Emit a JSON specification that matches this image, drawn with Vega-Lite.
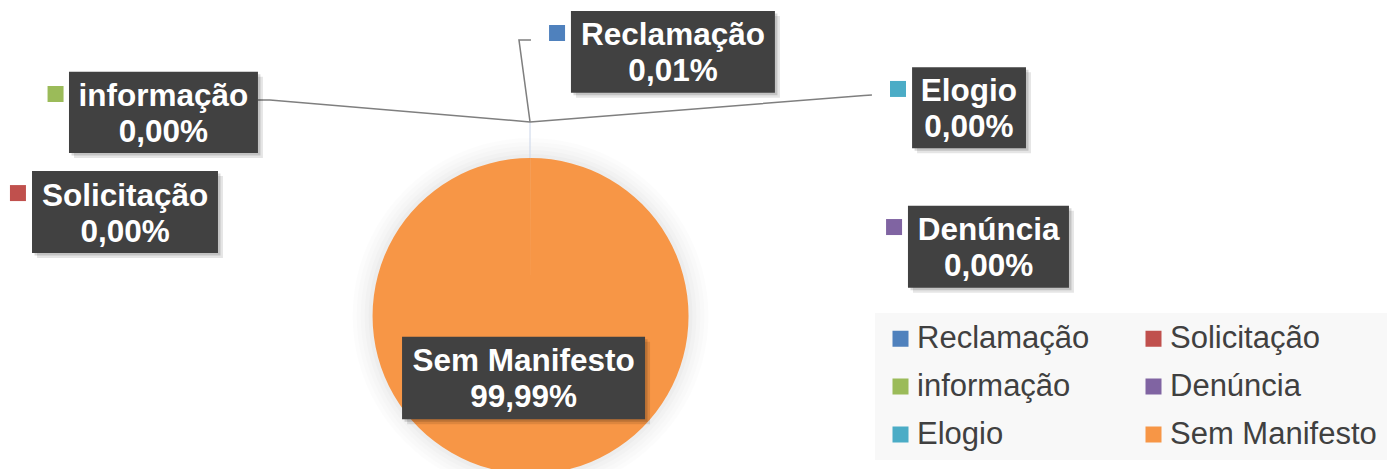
{
  "$schema": "https://vega.github.io/schema/vega-lite/v6.json",
  "width": 1391,
  "height": 469,
  "autosize": {"type": "none"},
  "padding": 0,
  "background": "#ffffff",
  "config": {"view": {"stroke": null}},
  "datasets": {
    "shares": [
      {"cat": "Reclamação", "value": 0.01},
      {"cat": "Solicitação", "value": 0},
      {"cat": "informação", "value": 0},
      {"cat": "Denúncia", "value": 0},
      {"cat": "Elogio", "value": 0},
      {"cat": "Sem Manifesto", "value": 99.99}
    ],
    "labels": [
      {"cat": "Reclamação", "pct": "0,01%", "bx1": 25.6, "bx2": 154.7, "by1": 193.0, "by2": 141.3, "cx": 90.2, "cy": 167.2, "mx": 16.8, "my": 179.1},
      {"cat": "Solicitação", "pct": "0,00%", "bx1": -315.5, "bx2": -197.8, "by1": 91.8, "by2": 39.9, "cx": -256.6, "cy": 65.8, "mx": -324.4, "my": 77.8},
      {"cat": "informação", "pct": "0,00%", "bx1": -292.1, "bx2": -172.5, "by1": 154.6, "by2": 103.2, "cx": -232.3, "cy": 128.9, "mx": -300.6, "my": 140.5},
      {"cat": "Denúncia", "pct": "0,00%", "bx1": 238.9, "bx2": 340.8, "by1": 69.8, "by2": 17.9, "cx": 289.9, "cy": 43.9, "mx": 230.1, "my": 56.3},
      {"cat": "Elogio", "pct": "0,00%", "bx1": 241.5, "bx2": 313.6, "by1": 157.4, "by2": 106.1, "cx": 277.5, "cy": 131.8, "mx": 232.6, "my": 143.7},
      {"cat": "Sem Manifesto", "pct": "99,99%", "bx1": -81.3, "bx2": 72.5, "by1": -13.1, "by2": -65.4, "cx": -4.4, "cy": -39.2}
    ],
    "leaders": [
      {"cat": "Reclamação", "seq": 1, "u": -0.3, "v": 122.8},
      {"cat": "Reclamação", "seq": 2, "u": -7.3, "v": 174.7},
      {"cat": "Reclamação", "seq": 3, "u": 0.3, "v": 174.7},
      {"cat": "informação", "seq": 1, "u": -0.3, "v": 122.8},
      {"cat": "informação", "seq": 2, "u": -164.9, "v": 136.7},
      {"cat": "informação", "seq": 3, "u": -172.5, "v": 136.7},
      {"cat": "Elogio", "seq": 1, "u": -0.3, "v": 122.8},
      {"cat": "Elogio", "seq": 2, "u": 211.1, "v": 139.6},
      {"cat": "Elogio", "seq": 3, "u": 216.1, "v": 139.9}
    ]
  },
  "layer": [
    {
      "data": {"name": "shares"},
      "mark": {"type": "arc", "outerRadius": 178, "fill": "#000000", "opacity": 0.012},
      "encoding": {
        "theta": {"field": "value", "type": "quantitative", "stack": true},
        "x": {"datum": 0, "type": "quantitative", "scale": {"domain": [-335.76, 544.62], "nice": false, "zero": false}, "axis": null},
        "y": {"datum": 0, "type": "quantitative", "scale": {"domain": [-96.84, 200.0], "nice": false, "zero": false}, "axis": null}
      }
    },
    {
      "data": {"name": "shares"},
      "mark": {"type": "arc", "outerRadius": 174, "fill": "#000000", "opacity": 0.012},
      "encoding": {
        "theta": {"field": "value", "type": "quantitative", "stack": true},
        "x": {"datum": 0, "type": "quantitative", "scale": {"domain": [-335.76, 544.62], "nice": false, "zero": false}, "axis": null},
        "y": {"datum": 0, "type": "quantitative", "scale": {"domain": [-96.84, 200.0], "nice": false, "zero": false}, "axis": null}
      }
    },
    {
      "data": {"name": "shares"},
      "mark": {"type": "arc", "outerRadius": 170, "fill": "#000000", "opacity": 0.012},
      "encoding": {
        "theta": {"field": "value", "type": "quantitative", "stack": true},
        "x": {"datum": 0, "type": "quantitative", "scale": {"domain": [-335.76, 544.62], "nice": false, "zero": false}, "axis": null},
        "y": {"datum": 0, "type": "quantitative", "scale": {"domain": [-96.84, 200.0], "nice": false, "zero": false}, "axis": null}
      }
    },
    {
      "data": {"name": "shares"},
      "mark": {"type": "arc", "outerRadius": 166, "fill": "#000000", "opacity": 0.015},
      "encoding": {
        "theta": {"field": "value", "type": "quantitative", "stack": true},
        "x": {"datum": 0, "type": "quantitative", "scale": {"domain": [-335.76, 544.62], "nice": false, "zero": false}, "axis": null},
        "y": {"datum": 0, "type": "quantitative", "scale": {"domain": [-96.84, 200.0], "nice": false, "zero": false}, "axis": null}
      }
    },
    {
      "data": {"name": "shares"},
      "mark": {"type": "arc", "outerRadius": 162, "fill": "#000000", "opacity": 0.018},
      "encoding": {
        "theta": {"field": "value", "type": "quantitative", "stack": true},
        "x": {"datum": 0, "type": "quantitative", "scale": {"domain": [-335.76, 544.62], "nice": false, "zero": false}, "axis": null},
        "y": {"datum": 0, "type": "quantitative", "scale": {"domain": [-96.84, 200.0], "nice": false, "zero": false}, "axis": null}
      }
    },
    {
      "data": {"name": "shares"},
      "mark": {"type": "arc", "outerRadius": 158, "strokeWidth": 0},
      "encoding": {
        "theta": {"field": "value", "type": "quantitative", "stack": true},
        "x": {"datum": 0, "type": "quantitative", "scale": {"domain": [-335.76, 544.62], "nice": false, "zero": false}, "axis": null},
        "y": {"datum": 0, "type": "quantitative", "scale": {"domain": [-96.84, 200.0], "nice": false, "zero": false}, "axis": null},
        "color": {
          "field": "cat",
          "type": "nominal",
          "scale": {
            "domain": ["Reclamação", "Solicitação", "informação", "Denúncia", "Elogio", "Sem Manifesto"],
            "range": ["#4f81bd", "#c0504d", "#9bbb59", "#8064a2", "#4bacc6", "#f79646"]
          },
          "legend": {
            "title": null,
            "orient": "none",
            "direction": "horizontal",
            "legendX": 875,
            "legendY": 313,
            "columns": 2,
            "symbolType": "square",
            "symbolSize": 256,
            "symbolStrokeWidth": 0,
            "labelFont": "Liberation Sans",
            "labelFontSize": 31,
            "labelColor": "#404040",
            "labelOffset": 1,
            "labelLimit": 400,
            "rowPadding": 16,
            "columnPadding": 48,
            "padding": 10,
            "fillColor": "#f8f8f8"
          }
        }
      }
    },
    {
      "data": {"values": [{}]},
      "mark": {"type": "rule", "color": "#c9d4e8", "strokeWidth": 1},
      "encoding": {
        "x": {"datum": -0.3, "type": "quantitative", "scale": {"domain": [-335.76, 544.62], "nice": false, "zero": false}, "axis": null},
        "y": {"datum": 122.8, "type": "quantitative", "scale": {"domain": [-96.84, 200.0], "nice": false, "zero": false}, "axis": null},
        "y2": {"datum": 100}
      }
    },
    {
      "data": {"name": "leaders"},
      "mark": {"type": "line", "color": "#7f7f7f", "strokeWidth": 1.5},
      "encoding": {
        "x": {"field": "u", "type": "quantitative", "scale": {"domain": [-335.76, 544.62], "nice": false, "zero": false}, "axis": null},
        "y": {"field": "v", "type": "quantitative", "scale": {"domain": [-96.84, 200.0], "nice": false, "zero": false}, "axis": null},
        "detail": {"field": "cat", "type": "nominal"},
        "order": {"field": "seq", "type": "quantitative"}
      }
    },
    {
      "data": {"name": "labels"},
      "mark": {"type": "rect", "fill": "#000000", "opacity": 0.1, "xOffset": 5, "x2Offset": 5, "yOffset": 5, "y2Offset": 5},
      "encoding": {
        "x": {"field": "bx1", "type": "quantitative", "scale": {"domain": [-335.76, 544.62], "nice": false, "zero": false}, "axis": null},
        "x2": {"field": "bx2"},
        "y": {"field": "by1", "type": "quantitative", "scale": {"domain": [-96.84, 200.0], "nice": false, "zero": false}, "axis": null},
        "y2": {"field": "by2"}
      }
    },
    {
      "data": {"name": "labels"},
      "mark": {"type": "rect", "fill": "#000000", "opacity": 0.15, "xOffset": 2.5, "x2Offset": 2.5, "yOffset": 2.5, "y2Offset": 2.5},
      "encoding": {
        "x": {"field": "bx1", "type": "quantitative", "scale": {"domain": [-335.76, 544.62], "nice": false, "zero": false}, "axis": null},
        "x2": {"field": "bx2"},
        "y": {"field": "by1", "type": "quantitative", "scale": {"domain": [-96.84, 200.0], "nice": false, "zero": false}, "axis": null},
        "y2": {"field": "by2"}
      }
    },
    {
      "data": {"name": "labels"},
      "mark": {"type": "rect", "fill": "#414141"},
      "encoding": {
        "x": {"field": "bx1", "type": "quantitative", "scale": {"domain": [-335.76, 544.62], "nice": false, "zero": false}, "axis": null},
        "x2": {"field": "bx2"},
        "y": {"field": "by1", "type": "quantitative", "scale": {"domain": [-96.84, 200.0], "nice": false, "zero": false}, "axis": null},
        "y2": {"field": "by2"}
      }
    },
    {
      "data": {"name": "labels"},
      "transform": [{"filter": "isValid(datum.mx)"}],
      "mark": {"type": "point", "shape": "square", "filled": true, "size": 256, "opacity": 1, "strokeWidth": 0},
      "encoding": {
        "x": {"field": "mx", "type": "quantitative", "scale": {"domain": [-335.76, 544.62], "nice": false, "zero": false}, "axis": null},
        "y": {"field": "my", "type": "quantitative", "scale": {"domain": [-96.84, 200.0], "nice": false, "zero": false}, "axis": null},
        "color": {"field": "cat", "type": "nominal"}
      }
    },
    {
      "data": {"name": "labels"},
      "mark": {"type": "text", "font": "Liberation Sans", "fontWeight": "bold", "fontSize": 31.5, "fill": "#ffffff", "align": "center", "baseline": "alphabetic", "dy": -6.5},
      "encoding": {
        "x": {"field": "cx", "type": "quantitative", "scale": {"domain": [-335.76, 544.62], "nice": false, "zero": false}, "axis": null},
        "y": {"field": "cy", "type": "quantitative", "scale": {"domain": [-96.84, 200.0], "nice": false, "zero": false}, "axis": null},
        "text": {"field": "cat", "type": "nominal"}
      }
    },
    {
      "data": {"name": "labels"},
      "mark": {"type": "text", "font": "Liberation Sans", "fontWeight": "bold", "fontSize": 31.5, "fill": "#ffffff", "align": "center", "baseline": "alphabetic", "dy": 29.5},
      "encoding": {
        "x": {"field": "cx", "type": "quantitative", "scale": {"domain": [-335.76, 544.62], "nice": false, "zero": false}, "axis": null},
        "y": {"field": "cy", "type": "quantitative", "scale": {"domain": [-96.84, 200.0], "nice": false, "zero": false}, "axis": null},
        "text": {"field": "pct", "type": "nominal"}
      }
    }
  ]
}
